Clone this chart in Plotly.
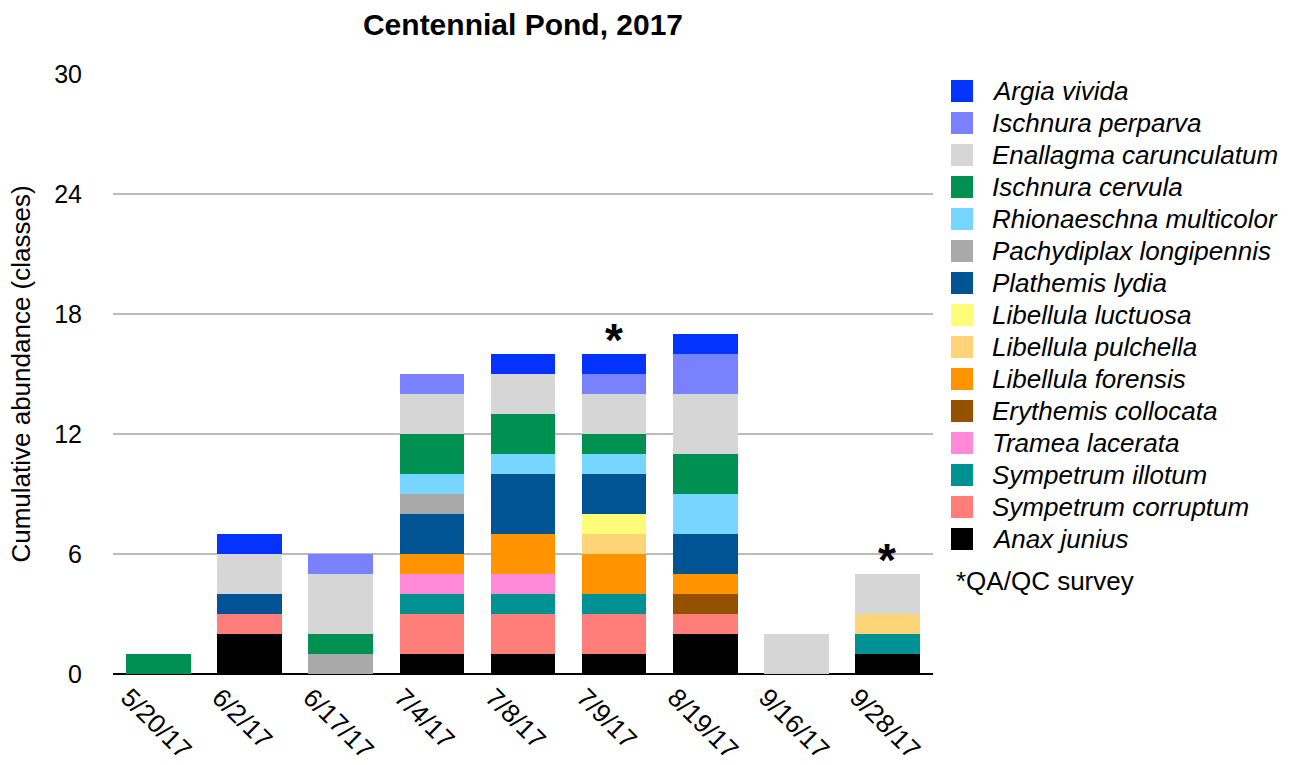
import plotly.graph_objects as go

# Survey dates (x categories)
dates = ["5/20/17", "6/2/17", "6/17/17", "7/4/17", "7/8/17",
         "7/9/17", "8/19/17", "9/16/17", "9/28/17"]

# Abundance classes per species and date, listed from the bottom of the stack up
anax_junius             = [0, 2, 0, 1, 1, 1, 2, 0, 1]
sympetrum_corruptum     = [0, 1, 0, 2, 2, 2, 1, 0, 0]
sympetrum_illotum       = [0, 0, 0, 1, 1, 1, 0, 0, 1]
tramea_lacerata         = [0, 0, 0, 1, 1, 0, 0, 0, 0]
erythemis_collocata     = [0, 0, 0, 0, 0, 0, 1, 0, 0]
libellula_forensis      = [0, 0, 0, 1, 2, 2, 1, 0, 0]
libellula_pulchella     = [0, 0, 0, 0, 0, 1, 0, 0, 1]
libellula_luctuosa      = [0, 0, 0, 0, 0, 1, 0, 0, 0]
plathemis_lydia         = [0, 1, 0, 2, 3, 2, 2, 0, 0]
pachydiplax_longipennis = [0, 0, 1, 1, 0, 0, 0, 0, 0]
rhionaeschna_multicolor = [0, 0, 0, 1, 1, 1, 2, 0, 0]
ischnura_cervula        = [1, 0, 1, 2, 2, 1, 2, 0, 0]
enallagma_carunculatum  = [0, 2, 3, 2, 2, 2, 3, 2, 2]
ischnura_perparva       = [0, 0, 1, 1, 0, 1, 2, 0, 0]
argia_vivida            = [0, 1, 0, 0, 1, 1, 1, 0, 0]

# Surveys flagged as QA/QC
qa_dates = ["7/9/17", "9/28/17"]

species = [
    ("Anax junius", anax_junius, "#000000"),
    ("Sympetrum corruptum", sympetrum_corruptum, "#FF7E79"),
    ("Sympetrum illotum", sympetrum_illotum, "#009193"),
    ("Tramea lacerata", tramea_lacerata, "#FF8AD8"),
    ("Erythemis collocata", erythemis_collocata, "#945200"),
    ("Libellula forensis", libellula_forensis, "#FF9300"),
    ("Libellula pulchella", libellula_pulchella, "#FFD479"),
    ("Libellula luctuosa", libellula_luctuosa, "#FFFC79"),
    ("Plathemis lydia", plathemis_lydia, "#005493"),
    ("Pachydiplax longipennis", pachydiplax_longipennis, "#A9A9A9"),
    ("Rhionaeschna multicolor", rhionaeschna_multicolor, "#76D6FF"),
    ("Ischnura cervula", ischnura_cervula, "#009051"),
    ("Enallagma carunculatum", enallagma_carunculatum, "#D6D6D6"),
    ("Ischnura perparva", ischnura_perparva, "#7A81FF"),
    ("Argia vivida", argia_vivida, "#0433FF"),
]

FONT = "Liberation Sans, Arial, Helvetica, sans-serif"
W, H = 1294, 765
L, R, T, B = 113, 361, 74, 91
PW, PH = W - L - R, H - T - B

fig = go.Figure()
for name, vals, color in species:
    fig.add_trace(go.Bar(
        x=dates, y=vals, name=name,
        marker=dict(color=color, line=dict(width=0)),
        showlegend=False,
    ))

# Asterisks over QA/QC surveys
totals = [sum(v[i] for _, v, _ in species) for i in range(len(dates))]
for d in qa_dates:
    i = dates.index(d)
    fig.add_annotation(
        x=d, y=totals[i], xref="x", yref="y",
        text="<b>*</b>", showarrow=False,
        xanchor="center", yanchor="bottom", yshift=-14,
        font=dict(family=FONT, size=46, color="black"),
    )

# Legend: swatches and italic names, top of the stack first
def px_x(px):
    return (px - L) / PW

def px_y(py):
    return (H - B - py) / PH

shapes = []
for k, (name, _, color) in enumerate(reversed(species)):
    cy = 91 + 32 * k
    shapes.append(dict(
        type="rect", xref="paper", yref="paper",
        x0=px_x(951), x1=px_x(973), y0=px_y(cy + 11), y1=px_y(cy - 11),
        fillcolor=color, line=dict(width=0),
    ))
    fig.add_annotation(
        x=px_x(990), y=px_y(cy), xref="paper", yref="paper",
        text=f"<i>{name}</i>", showarrow=False,
        xanchor="left", yanchor="middle",
        font=dict(family=FONT, size=26, color="black"),
    )

fig.add_annotation(
    x=px_x(954), y=px_y(581), xref="paper", yref="paper",
    text="*QA/QC survey", showarrow=False,
    xanchor="left", yanchor="middle",
    font=dict(family=FONT, size=26, color="black"),
)

fig.update_layout(
    width=W, height=H,
    margin=dict(l=L, r=R, t=T, b=B, autoexpand=False),
    paper_bgcolor="white", plot_bgcolor="white",
    barmode="stack", bargap=0.29,
    shapes=shapes,
    font=dict(family=FONT, size=25, color="black"),
    title=dict(
        text="<b>Centennial Pond, 2017</b>",
        x=(L + PW / 2) / W, xanchor="center",
        y=1 - 24 / H, yanchor="middle",
        font=dict(family=FONT, size=30, color="black"),
    ),
    xaxis=dict(
        type="category", tickangle=45,
        showgrid=False, showline=False, ticks="",
        ticklabelshift=-30, ticklabelstandoff=2,
        tickfont=dict(family=FONT, size=26, color="black"),
    ),
    yaxis=dict(
        range=[0, 30], tickvals=[0, 6, 12, 18, 24, 30],
        showgrid=True, gridcolor="#BBBBBB", gridwidth=2,
        zeroline=True, zerolinecolor="black", zerolinewidth=2,
        showline=False, ticks="", ticklabelstandoff=30,
        tickfont=dict(family=FONT, size=25, color="black"),
        title=dict(text="Cumulative abundance (classes)", standoff=16,
                   font=dict(family=FONT, size=26, color="black")),
    ),
)

fig.write_html("out.html")
